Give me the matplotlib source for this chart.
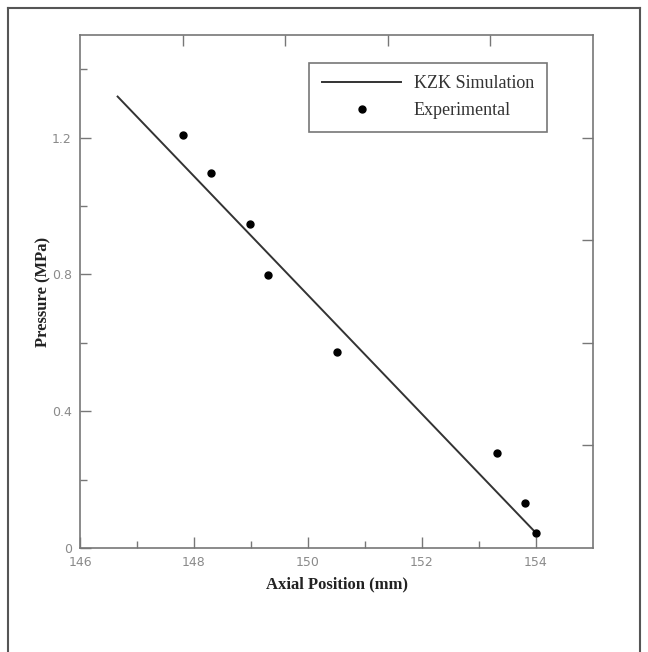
import matplotlib
matplotlib.use('Agg')
import matplotlib.pyplot as plt
from matplotlib.lines import Line2D

# KZK simulation line (straight)
sim_x = [146.66, 154.0]
sim_y = [1.32, 0.044]

# experimental points
exp_x = [147.80, 148.30, 148.99, 149.30, 150.51, 153.31, 153.80, 154.00]
exp_y = [1.209, 1.096, 0.947, 0.798, 0.573, 0.279, 0.131, 0.044]

xticks = [146, 148, 150, 152, 154]
xminor = [147, 149, 151, 153]
yticks = [0, 0.4, 0.8, 1.2]
yticklabels = ['0', '0.4', '0.8', '1.2']
yminor = [0.2, 0.6, 1.0, 1.4]
top_ticks = [147.8, 149.6, 151.4, 153.2]
right_ticks = [0.3, 0.6, 0.9, 1.2]

serif = ['Liberation Serif', 'DejaVu Serif']
spine_col = '#777777'
tick_lab_col = '#8a8a8a'

fig = plt.figure(figsize=(6.48, 6.52), dpi=100)
W, H = 648, 652
ax = fig.add_axes([80 / W, 1 - 548 / H, 513 / W, 513 / H])

ax.plot(sim_x, sim_y, color='#333333', lw=1.4, label='KZK Simulation')
ax.plot(exp_x, exp_y, 'o', color='black', ms=5, label='Experimental')

ax.set_xlim(146, 155)
ax.set_ylim(0, 1.5)
ax.set_xticks(xticks)
ax.set_xticks(xminor, minor=True)
ax.set_yticks(yticks)
ax.set_yticklabels(yticklabels)
ax.set_yticks(yminor, minor=True)
ax.tick_params(which='major', direction='in', length=8, width=1, color=spine_col,
               labelsize=9, labelcolor=tick_lab_col, pad=6)
ax.tick_params(which='minor', direction='in', length=5, width=1, color=spine_col)
for s in ax.spines.values():
    s.set_color(spine_col)
    s.set_linewidth(1.2)

# separate tick sets on top and right edges
axt = ax.twiny()
axt.set_xlim(146, 155)
axt.set_xticks(top_ticks)
axt.tick_params(direction='in', length=8, width=1, color=spine_col, labeltop=False)
axr = ax.twinx()
axr.set_ylim(0, 1.5)
axr.set_yticks(right_ticks)
axr.tick_params(direction='in', length=8, width=1, color=spine_col, labelright=False)
for a in (axt, axr):
    for s in a.spines.values():
        s.set_visible(False)

ax.set_xlabel('Axial Position (mm)', fontsize=12, fontweight='bold', family=serif,
              color='#222222', labelpad=5)
ax.set_ylabel('Pressure (MPa)', fontsize=12, fontweight='bold', family=serif,
              color='#222222', labelpad=0)

leg = ax.legend(loc='upper right', bbox_to_anchor=(0.910, 0.946), borderaxespad=0,
                prop={'family': serif, 'size': 13},
                handlelength=4.4, handletextpad=0.7, borderpad=0.7, fancybox=False,
                labelspacing=0.55, framealpha=1)
leg.get_frame().set_edgecolor(spine_col)
leg.get_frame().set_linewidth(1.2)
for t in leg.get_texts():
    t.set_color('#333333')

# outer frame around the figure (no bottom edge)
fx0, fx1, fy1 = 8 / W, 640 / W, 1 - 8 / H
frame_col = '#555555'
fig.add_artist(Line2D([fx0, fx0], [0, fy1], transform=fig.transFigure, color=frame_col, lw=1.5))
fig.add_artist(Line2D([fx0, fx1], [fy1, fy1], transform=fig.transFigure, color=frame_col, lw=1.5))
fig.add_artist(Line2D([fx1, fx1], [0, fy1], transform=fig.transFigure, color=frame_col, lw=1.5))

fig.savefig('out.png', dpi=100)
